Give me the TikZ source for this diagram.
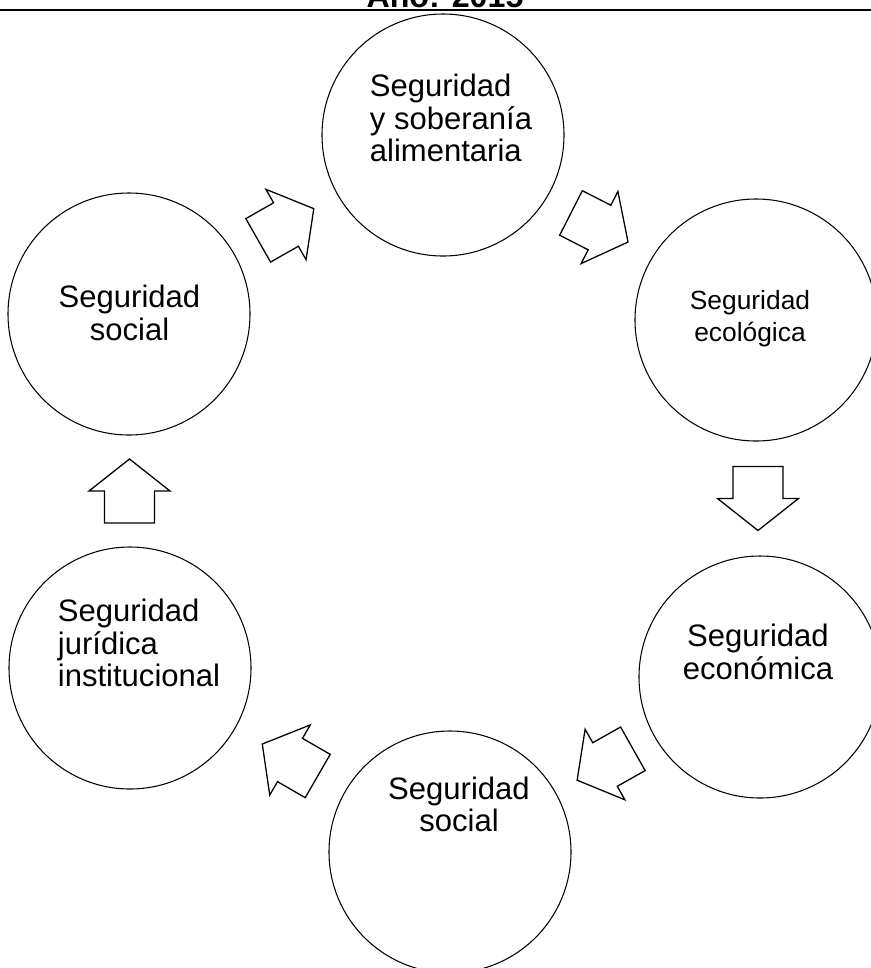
\documentclass[tikz,border=0pt]{standalone}
\usepackage{fontspec}
\setmainfont{Liberation Sans}
\usetikzlibrary{calc}
\tikzset{
  anillo/.style={draw, circle, line width=0.9pt, minimum size=72.6mm, inner sep=0pt},
  rotulo/.style={inner sep=0pt, font=\fontsize{26.5}{27.5}\selectfont},
  pics/flecha/.style={code={
    \draw[line width=1.1pt, line join=miter] (-32,-25) -- (0,-25) -- (0,-40.5) -- (32,0) -- (0,40.5) -- (0,25) -- (-32,25) -- cycle;
  }}
}
\begin{document}
\begin{tikzpicture}[x=0.3mm, y=-0.3mm]
\useasboundingbox (0,0) rectangle (871,968);
\node[anchor=base, inner sep=0pt, font=\fontsize{27.5}{30}\selectfont\bfseries] (titulo) at (445,7) {Año: 2015};
\draw[line width=1.1pt] (0,10) -- (871,10);

\node[anillo] (alim) at (443,135) {};
\node[anillo] (ecol) at (756,320) {};
\node[anillo] (econ) at (760,677) {};
\node[anillo] (soc) at (450,852) {};
\node[anillo] (jur) at (130,668) {};
\node[anillo] (socb) at (129,314) {};

\node[rotulo, align=left] (alimT) at (451,118) {Seguridad\\y soberanía\\alimentaria};
\node[rotulo, align=center, font=\fontsize{22.5}{27.5}\selectfont] (ecolT) at (750,319) {Seguridad\\ecológica};
\node[rotulo, align=center] (econT) at (758,652) {Seguridad\\económica};
\node[rotulo, align=center] (socT) at (459,804) {Seguridad\\social};
\node[rotulo, align=left] (jurT) at (139,643) {Seguridad\\jurídica\\institucional};
\node[rotulo, align=center] (socbT) at (129.5,313) {Seguridad\\social};

\pic[rotate=29.7] at ($(socb)!0.5!(alim)$) {flecha};
\pic[rotate=-27] at ($(alim)!0.5!(ecol)$) {flecha};
\pic[rotate=-90] at ($(ecol)!0.5!(econ)$) {flecha};
\pic[rotate=209.4] at ($(econ)!0.5!(soc)$) {flecha};
\pic[rotate=150] at ($(soc)!0.5!(jur)$) {flecha};
\pic[rotate=90] at ($(jur)!0.5!(socb)$) {flecha};
\end{tikzpicture}
\end{document}
